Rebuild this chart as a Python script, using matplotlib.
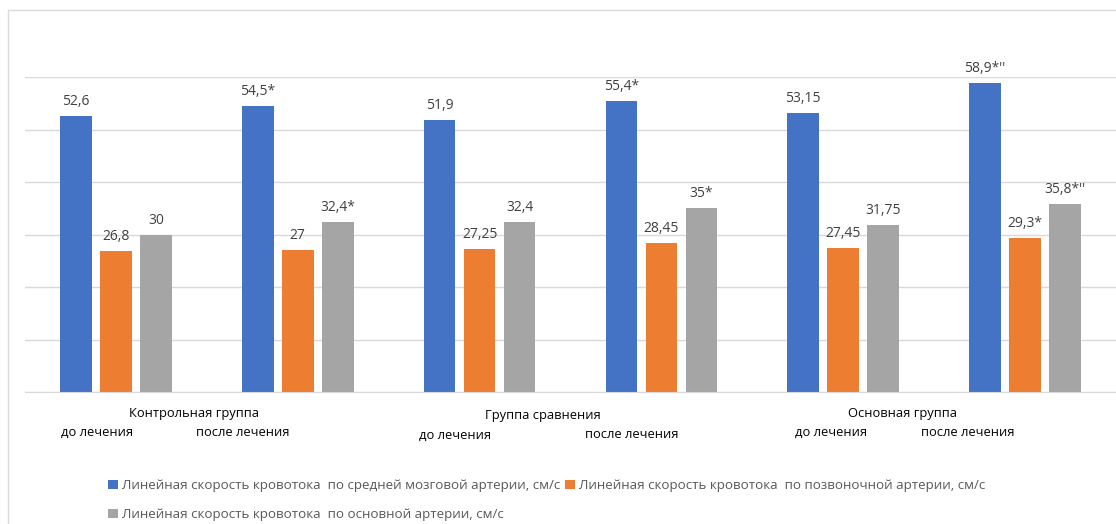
import numpy as np
import matplotlib.pyplot as plt
from matplotlib.patches import Rectangle

plt.rcParams['font.family'] = ['Open Sans', 'DejaVu Sans']

series = ["Линейная скорость кровотока  по средней мозговой артерии, см/с",
          "Линейная скорость кровотока  по позвоночной артерии, см/с",
          "Линейная скорость кровотока  по основной артерии, см/с"]
colors = ['#4472C4', '#ED7D31', '#A5A5A5']

mca = [52.6, 54.5, 51.9, 55.4, 53.15, 58.9]
va = [26.8, 27, 27.25, 28.45, 27.45, 29.3]
ba = [30, 32.4, 32.4, 35, 31.75, 35.8]

mca_lbl = ['52,6', '54,5*', '51,9', '55,4*', '53,15', "58,9*''"]
va_lbl = ['26,8', '27', '27,25', '28,45', '27,45', '29,3*']
ba_lbl = ['30', '32,4*', '32,4', '35*', '31,75', "35,8*''"]

groups = ['Контрольная группа', 'Группа сравнения', 'Основная группа']
sub = ['до лечения', 'после лечения']

W, H = 1116, 524
fig = plt.figure(figsize=(W / 100, H / 100), dpi=100)
fig.patches.append(Rectangle((8 / W, -0.1), 1.2, 1 - 10 / H + 0.1,
                             transform=fig.transFigure, fill=False,
                             edgecolor='#D9D9D9', lw=1))
ax = fig.add_axes([25 / W, 1 - 392 / H, 1 - 25 / W, (392 - 77) / H])

x = np.arange(len(mca))
bw = 0.175
step = 0.22
for i, (vals, lbls) in enumerate([(mca, mca_lbl), (va, va_lbl), (ba, ba_lbl)]):
    bars = ax.bar(x + (i - 1) * step, vals, bw, color=colors[i], label=series[i], zorder=2)
    ax.bar_label(bars, labels=lbls, padding=5, fontsize=10, color='#404040')

ax.set_xlim(-0.5, 5.5)
ax.set_ylim(0, 60)
ax.set_yticks(np.arange(0, 61, 10))
ax.yaxis.grid(True, color='#D9D9D9', lw=1, zorder=0)
ax.set_xticks([])
ax.tick_params(left=False, labelleft=False)
for s in ['top', 'right', 'left']:
    ax.spines[s].set_visible(False)
ax.spines['bottom'].set_color('#D9D9D9')

# category labels (pixel positions as in the reference)
main_pos = [(194, 413), (543, 416), (902, 413)]
sub_pos = [[(97, 432), (243, 432)], [(455, 435), (632, 435)], [(831, 432), (968, 432)]]
for g, (mx, my) in enumerate(main_pos):
    fig.text(mx / W, 1 - my / H, groups[g], ha='center', va='center', fontsize=9.3, color='#000000')
    for k, (sx, sy) in enumerate(sub_pos[g]):
        fig.text(sx / W, 1 - sy / H, sub[k], ha='center', va='center', fontsize=9.3, color='#000000')

h, l = ax.get_legend_handles_labels()
order = [0, 2, 1]
fig.legend([h[i] for i in order], [l[i] for i in order], ncol=2,
           loc='upper left', bbox_to_anchor=(99 / W, 1 - 470 / H),
           frameon=False, fontsize=9.6, labelcolor='#595959',
           handlelength=0.7, handleheight=0.7, handletextpad=0.3,
           columnspacing=0.4, labelspacing=1.2, borderpad=0.2)

fig.savefig('out.png', dpi=100)
